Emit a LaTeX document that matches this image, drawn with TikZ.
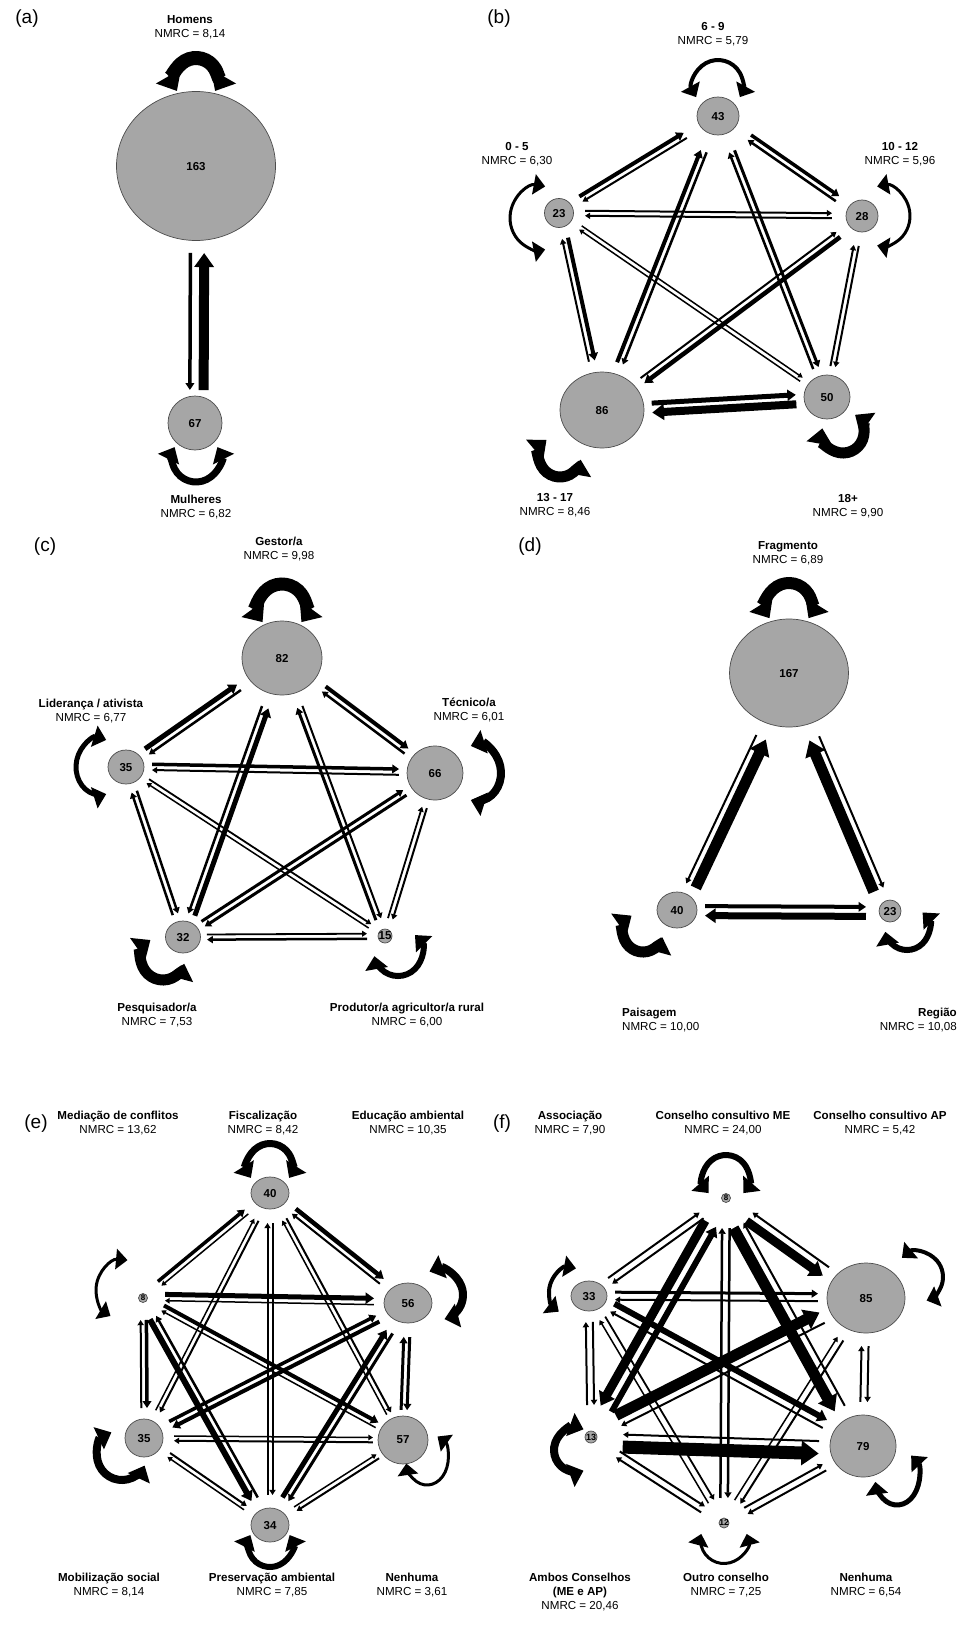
\documentclass[tikz,border=0pt]{standalone}
\usepackage{fontspec}
\setmainfont{Liberation Sans}
\usetikzlibrary{calc,arrows.meta,shapes.geometric}
\definecolor{nodegray}{RGB}{166,166,166}
\def\edgegap{1.5}
\newcommand\mknode[7]{%
  \node[nodest, minimum width=#4pt, minimum height=#5pt] (#1) at (#2,#3) {\smash{\makebox[0pt]{\raisebox{-.5\height}{#6}}}};%
  \expandafter\gdef\csname cl@#1\endcsname{#7}}
\newcommand\mkedge[4][90]{%
  \pgfmathsetmacro\edgeoff{#4/2+\edgegap}%
  \pgfmathsetmacro\edgeang{-(#1)}%
  \edef\clA{\csname cl@#2\endcsname}\edef\clB{\csname cl@#3\endcsname}%
  \draw[edgest, line width=#4pt, shorten <=\clA pt, shorten >=\clB pt]
    ($(#2)!\edgeoff pt!#1:(#3)$) -- ($(#3)!\edgeoff pt!\edgeang:(#2)$);}
\newcommand\mkloop[8]{%
  \draw[loopst, line width=#8pt] ($(#1)+(#2,#3)+(#6:#4 and #5)$) arc[start angle=#6, end angle=#7, x radius=#4, y radius=#5];}
\tikzset{
  nodest/.style={ellipse, draw=black!70, line width=0.7pt, fill=nodegray, inner sep=0pt, font=\bfseries\fontsize{11.5}{12}\selectfont},
  edgest/.style={draw=black, arrows={-Triangle[width=3pt 1.6,length=3pt 1.1]}},
  loopst/.style={draw=black, arrows={Triangle[width=18pt 0.7,length=10pt 0.5]-Triangle[width=18pt 0.7,length=10pt 0.5]}},
  lbl/.style={align=center, inner sep=0pt, font=\fontsize{11.6}{14}\selectfont},
  panel/.style={inner sep=0pt, font=\fontsize{19}{20}\selectfont}
}
\begin{document}
\begin{tikzpicture}[x=1pt,y=-1pt]
\fill[white] (0,0) rectangle (963,1627);
\useasboundingbox (0,0) rectangle (963,1627);

% ---------------- (a)
\def\edgegap{3.5}
\mknode{a1}{196}{166}{159}{149}{163}{87}
\mknode{a2}{195}{423}{54}{54}{67}{33}
\mkedge[-90]{a1}{a2}{3.5}
\mkedge[-90]{a2}{a1}{10}
\mkloop{a1}{0}{-86}{22}{22}{150}{390}{14}
\mkloop{a2}{1}{35}{24}{24}{-27}{207}{7}
\node[panel] at (27,19) {(a)};
\node[lbl] at (190,27) {\textbf{Homens}\\NMRC = 8,14};
\node[lbl] at (196,507) {\textbf{Mulheres}\\NMRC = 6,82};

% ---------------- (b)
\def\edgegap{1.5}
\mknode{b1}{718}{116}{42}{38}{43}{38}
\mknode{b2}{559}{213}{29}{29}{23}{26}
\mknode{b3}{862}{216}{32}{32}{28}{30}
\mknode{b4}{602}{410}{84}{76}{86}{50}
\mknode{b5}{827}{397}{46}{44}{50}{31}
\mkedge{b2}{b1}{4} \mkedge{b1}{b2}{2}
\mkedge{b1}{b3}{3.5} \mkedge{b3}{b1}{2.5}
\mkedge{b2}{b3}{2} \mkedge{b3}{b2}{2}
\mkedge{b2}{b4}{4} \mkedge{b4}{b2}{2}
\mkedge{b4}{b1}{4} \mkedge{b1}{b4}{2.5}
\mkedge{b1}{b5}{3} \mkedge{b5}{b1}{2.5}
\mkedge{b2}{b5}{1.5} \mkedge{b5}{b2}{1.5}
\mkedge{b3}{b4}{4.5} \mkedge{b4}{b3}{2}
\mkedge{b3}{b5}{2} \mkedge{b5}{b3}{2}
\mkedge{b4}{b5}{5} \mkedge{b5}{b4}{8}
\mkloop{b1}{0}{-31}{25}{25}{151}{389}{4}
\mkloop{b2}{-19}{5}{30}{32}{-80}{-280}{3}
\mkloop{b3}{20}{0}{28}{30}{-100}{100}{3}
\mkloop{b4}{-42}{46}{21}{21}{-130}{-350}{11}
\mkloop{b5}{16}{35}{21}{21}{190}{-55}{11}
\node[panel] at (499,19) {(b)};
\node[lbl] at (713,34) {\textbf{6 - 9}\\NMRC = 5,79};
\node[lbl] at (517,154) {\textbf{0 - 5}\\NMRC = 6,30};
\node[lbl] at (900,154) {\textbf{10 - 12}\\NMRC = 5,96};
\node[lbl] at (555,505) {\textbf{13 - 17}\\NMRC = 8,46};
\node[lbl] at (848,506) {\textbf{18+}\\NMRC = 9,90};

% ---------------- (c)
\mknode{c1}{282}{658}{80}{74}{82}{52}
\mknode{c2}{126}{767}{36}{34}{35}{26}
\mknode{c3}{435}{773}{56}{54}{66}{36}
\mknode{c4}{183}{937}{35}{32}{32}{24}
\mknode{c5}{385}{936}{14}{14}{15}{18}
\mkedge{c2}{c1}{5} \mkedge{c1}{c2}{2.5}
\mkedge{c1}{c3}{4} \mkedge{c3}{c1}{2.5}
\mkedge{c2}{c3}{3.5} \mkedge{c3}{c2}{2}
\mkedge{c2}{c4}{2.5} \mkedge{c4}{c2}{2.5}
\mkedge{c2}{c5}{1.8} \mkedge{c5}{c2}{1.5}
\mkedge[-90]{c4}{c1}{5} \mkedge[-90]{c1}{c4}{2.5}
\mkedge{c1}{c5}{2} \mkedge{c5}{c1}{3}
\mkedge{c3}{c4}{3} \mkedge{c4}{c3}{3}
\mkedge{c3}{c5}{2} \mkedge{c5}{c3}{1.8}
\mkedge{c4}{c5}{1.8} \mkedge{c5}{c4}{2.5}
\mkloop{c1}{0}{-50}{24}{24}{144}{396}{13}
\mkloop{c2}{-26}{0}{24}{28}{-75}{-285}{5}
\mkloop{c3}{42}{0}{24}{28}{-105}{105}{8}
\mkloop{c4}{-20}{21}{22}{22}{-125}{-345}{11}
\mkloop{c5}{13}{16}{24}{24}{-45}{170}{6}
\node[panel] at (45,547) {(c)};
\node[lbl] at (279,549) {\textbf{Gestor/a}\\NMRC = 9,98};
\node[lbl] at (91,711) {\textbf{Liderança / ativista}\\NMRC = 6,77};
\node[lbl] at (469,710) {\textbf{Técnico/a}\\NMRC = 6,01};
\node[lbl] at (157,1015) {\textbf{Pesquisador/a}\\NMRC = 7,53};
\node[lbl] at (407,1015) {\textbf{Produtor/a agricultor/a rural}\\NMRC = 6,00};

% ---------------- (d)
\def\edgegap{2}
\mknode{d1}{789}{673}{119}{108}{167}{70}
\mknode{d2}{677}{910}{40}{36}{40}{28}
\mknode{d3}{890}{911}{22}{22}{23}{24}
\mkedge[-90]{d1}{d2}{2} \mkedge[-90]{d2}{d1}{11}
\mkedge{d3}{d1}{11} \mkedge{d1}{d3}{2}
\mkedge{d2}{d3}{4} \mkedge{d3}{d2}{7}
\mkloop{d1}{0}{-67}{23}{23}{148}{392}{12}
\mkloop{d2}{-34}{22}{20}{20}{-125}{-345}{11}
\mkloop{d3}{17}{17}{22}{22}{-45}{170}{6}
\node[panel] at (530,547) {(d)};
\node[lbl] at (788,553) {\textbf{Fragmento}\\NMRC = 6,89};
\node[lbl, anchor=west, align=left] at (622,1020) {\textbf{Paisagem}\\NMRC = 10,00};
\node[lbl, anchor=east, align=right] at (957,1020) {\textbf{Região}\\NMRC = 10,08};

% ---------------- (e)
\def\edgegap{1.5}
\mknode{e1}{270}{1193}{38}{32}{40}{30}
\mknode{e2}{143}{1298}{9}{9}{{\fontsize{8}{8}\selectfont 8}}{22}
\mknode{e3}{408}{1303}{48}{40}{56}{34}
\mknode{e4}{144}{1438}{38}{38}{35}{30}
\mknode{e5}{403}{1440}{50}{48}{57}{30}
\mknode{e6}{270}{1525}{38}{34}{34}{30}
\mkedge{e2}{e1}{3.5} \mkedge{e1}{e2}{1.5}
\mkedge{e1}{e3}{4.5} \mkedge{e3}{e1}{2}
\mkedge{e2}{e3}{5} \mkedge{e3}{e2}{1.5}
\mkedge{e2}{e4}{3.5} \mkedge{e4}{e2}{2}
\mkedge[-90]{e2}{e6}{6} \mkedge[-90]{e6}{e2}{2.5}
\mkedge{e2}{e5}{4} \mkedge{e5}{e2}{1.5}
\mkedge{e1}{e4}{2} \mkedge{e4}{e1}{1.5}
\mkedge{e1}{e6}{2} \mkedge{e6}{e1}{2}
\mkedge{e1}{e5}{2} \mkedge{e5}{e1}{1.5}
\mkedge{e3}{e4}{4} \mkedge{e4}{e3}{3.5}
\mkedge{e3}{e5}{3} \mkedge{e5}{e3}{3}
\mkedge{e6}{e3}{5} \mkedge{e3}{e6}{3}
\mkedge{e4}{e5}{1.5} \mkedge{e5}{e4}{2}
\mkedge{e4}{e6}{2} \mkedge{e6}{e4}{1.5}
\mkedge{e5}{e6}{2} \mkedge{e6}{e5}{1.5}
\mkloop{e1}{0}{-27}{22.5}{22.5}{148}{392}{7}
\mkloop{e2}{-18}{-8}{29}{30}{-85}{-240}{3}
\mkloop{e3}{30}{-8}{25}{25}{-110}{75}{8}
\mkloop{e4}{-22}{17}{25}{25}{-115}{-335}{8}
\mkloop{e5}{24}{19}{21}{26}{-60}{170}{3}
\mkloop{e6}{0}{20}{22}{22}{-27}{207}{6}
\node[panel] at (36,1124) {(e)};
\node[lbl] at (118,1123) {\textbf{Mediação de conflitos}\\NMRC = 13,62};
\node[lbl] at (263,1123) {\textbf{Fiscalização}\\NMRC = 8,42};
\node[lbl] at (408,1123) {\textbf{Educação ambiental}\\NMRC = 10,35};
\node[lbl] at (109,1585) {\textbf{Mobilização social}\\NMRC = 8,14};
\node[lbl] at (272,1585) {\textbf{Preservação ambiental}\\NMRC = 7,85};
\node[lbl] at (412,1585) {\textbf{Nenhuma}\\NMRC = 3,61};

% ---------------- (f)
\def\edgegap{2.5}
\mknode{f1}{726}{1198}{9}{9}{{\fontsize{8}{8}\selectfont 8}}{30}
\mknode{f2}{589}{1296}{36}{30}{33}{26}
\mknode{f3}{866}{1298}{78}{70}{85}{48}
\mknode{f4}{591}{1437}{12}{12}{{\fontsize{9}{9}\selectfont 13}}{32}
\mknode{f5}{863}{1446}{66}{62}{79}{44}
\mknode{f6}{724}{1523}{10}{10}{{\fontsize{8.5}{9}\selectfont 12}}{25}
\mkedge{f1}{f2}{2} \mkedge{f2}{f1}{2}
\mkedge[-90]{f1}{f3}{9} \mkedge[-90]{f3}{f1}{2}
\mkedge[-90]{f1}{f4}{9} \mkedge[-90]{f4}{f1}{6}
\mkedge{f1}{f6}{2.5} \mkedge{f6}{f1}{2.5}
\mkedge[-90]{f1}{f5}{11} \mkedge[-90]{f5}{f1}{2}
\mkedge{f2}{f3}{3} \mkedge{f3}{f2}{2}
\mkedge{f2}{f4}{2} \mkedge{f4}{f2}{2}
\mkedge{f2}{f5}{6} \mkedge{f5}{f2}{2}
\mkedge{f2}{f6}{1.8} \mkedge{f6}{f2}{1.5}
\mkedge{f4}{f3}{11} \mkedge{f3}{f4}{2}
\mkedge{f3}{f5}{2} \mkedge{f5}{f3}{2}
\mkedge{f3}{f6}{2} \mkedge{f6}{f3}{1.5}
\mkedge[-90]{f4}{f5}{13} \mkedge[-90]{f5}{f4}{2}
\mkedge{f4}{f6}{2} \mkedge{f6}{f4}{2}
\mkedge{f5}{f6}{2} \mkedge{f6}{f5}{2}
\mkloop{f1}{0}{-20}{23}{23}{139}{401}{6}
\mkloop{f2}{-17}{-4}{23}{24}{-80}{-235}{4}
\mkloop{f3}{52}{-21}{25}{25}{-130}{70}{4}
\mkloop{f4}{-15}{13}{22}{22}{-70}{-290}{8}
\mkloop{f5}{34}{31}{22}{28}{-50}{170}{5}
\mkloop{f6}{0}{17}{23.5}{23.5}{-15}{195}{3}
\node[panel] at (502,1124) {(f)};
\node[lbl] at (570,1123) {\textbf{Associação}\\NMRC = 7,90};
\node[lbl] at (723,1123) {\textbf{Conselho consultivo ME}\\NMRC = 24,00};
\node[lbl] at (880,1123) {\textbf{Conselho consultivo AP}\\NMRC = 5,42};
\node[lbl] at (580,1592) {\textbf{Ambos Conselhos}\\\textbf{(ME e AP)}\\NMRC = 20,46};
\node[lbl] at (726,1585) {\textbf{Outro conselho}\\NMRC = 7,25};
\node[lbl] at (866,1585) {\textbf{Nenhuma}\\NMRC = 6,54};
\end{tikzpicture}
\end{document}
